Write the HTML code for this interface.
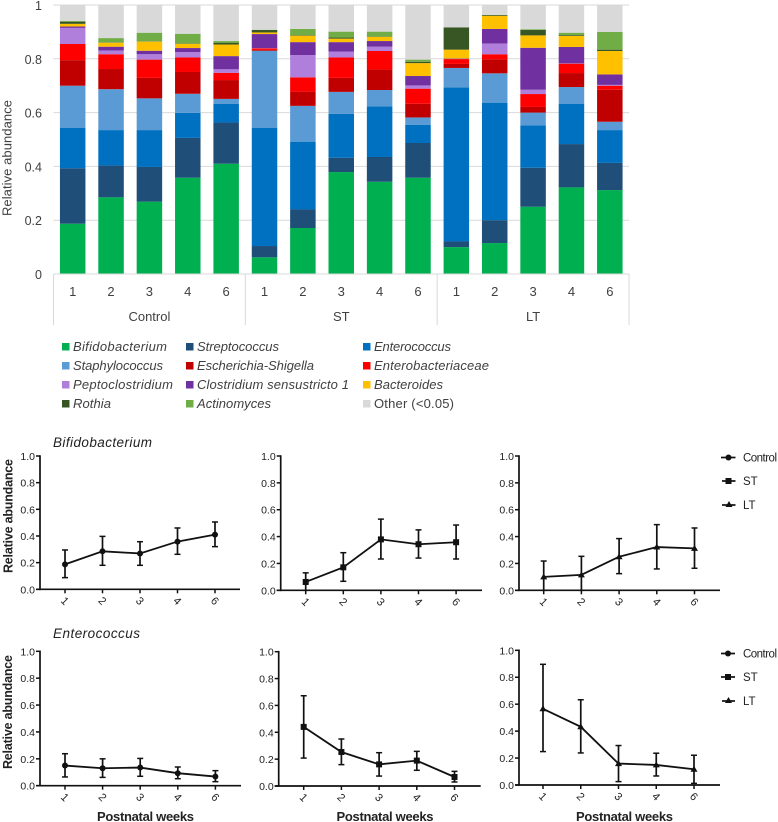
<!DOCTYPE html>
<html lang="en">
<head>
<meta charset="utf-8">
<title>Relative abundance chart</title>
<style>
html,body{margin:0;padding:0;background:#fff;}
svg{display:block;filter:blur(0.35px);}
.cal{font-family:"Liberation Sans",sans-serif;fill:#404040;font-size:13px;}
.ar{font-family:"Liberation Sans",sans-serif;fill:#222;}
</style>
</head>
<body>
<svg id="chart" xmlns="http://www.w3.org/2000/svg" width="778" height="822" viewBox="0 0 778 822">
  <g id="bars"></g>
  <text class="cal" transform="translate(11.5,216) rotate(-90)" textLength="116">Relative abundance</text>

  <g>
    <g><rect x="62" y="343" width="7.5" height="7.5" fill="#00b050"/><text class="cal" x="73" y="351" font-style="italic" textLength="94">Bifidobacterium</text></g>
    <g><rect x="186" y="343" width="7.5" height="7.5" fill="#1f4e79"/><text class="cal" x="197" y="351" font-style="italic" textLength="82">Streptococcus</text></g>
    <g><rect x="363" y="343" width="7.5" height="7.5" fill="#0070c0"/><text class="cal" x="374" y="351" font-style="italic" textLength="77">Enterococcus</text></g>
    <g><rect x="62" y="362" width="7.5" height="7.5" fill="#5b9bd5"/><text class="cal" x="73" y="370" font-style="italic" textLength="90">Staphylococcus</text></g>
    <g><rect x="186" y="362" width="7.5" height="7.5" fill="#c00000"/><text class="cal" x="197" y="370" font-style="italic" textLength="117">Escherichia-Shigella</text></g>
    <g><rect x="363" y="362" width="7.5" height="7.5" fill="#ff0000"/><text class="cal" x="374" y="370" font-style="italic" textLength="115">Enterobacteriaceae</text></g>
    <g><rect x="62" y="381" width="7.5" height="7.5" fill="#b07fdb"/><text class="cal" x="73" y="389" font-style="italic" textLength="100">Peptoclostridium</text></g>
    <g><rect x="186" y="381" width="7.5" height="7.5" fill="#7030a0"/><text class="cal" x="197" y="389" font-style="italic" textLength="152">Clostridium sensustricto 1</text></g>
    <g><rect x="363" y="381" width="7.5" height="7.5" fill="#ffc000"/><text class="cal" x="374" y="389" font-style="italic" textLength="69">Bacteroides</text></g>
    <g><rect x="62" y="400" width="7.5" height="7.5" fill="#375623"/><text class="cal" x="73" y="408" font-style="italic" textLength="38">Rothia</text></g>
    <g><rect x="186" y="400" width="7.5" height="7.5" fill="#70ad47"/><text class="cal" x="197" y="408" font-style="italic" textLength="74">Actinomyces</text></g>
    <g><rect x="363" y="400" width="7.5" height="7.5" fill="#d9d9d9"/><text class="cal" x="374" y="408" textLength="80">Other (&lt;0.05)</text></g>
  </g>

  <text class="ar" x="53" y="447" font-size="13.5" font-style="italic" textLength="99">Bifidobacterium</text>
  <text class="ar" x="53" y="638" font-size="13.5" font-style="italic" textLength="87">Enterococcus</text>
  <text class="ar" transform="translate(12.5,573) rotate(-90)" font-size="12.5" font-weight="bold" fill="#111" textLength="114">Relative abundance</text>
  <text class="ar" transform="translate(12,769) rotate(-90)" font-size="12.5" font-weight="bold" fill="#111" textLength="114">Relative abundance</text>
  <text class="ar" x="97" y="821" font-size="13" font-weight="bold" fill="#111" textLength="97">Postnatal weeks</text>
  <text class="ar" x="336.500" y="821" font-size="13" font-weight="bold" fill="#111" textLength="97">Postnatal weeks</text>
  <text class="ar" x="576" y="821" font-size="13" font-weight="bold" fill="#111" textLength="97">Postnatal weeks</text>

  <g id="panels"></g>

  <g>
    <g><line x1="721" x2="735.500" y1="457.500" y2="457.500" stroke="#111" stroke-width="1.700"/><circle cx="728.500" cy="457.500" r="3" fill="#111"/><text class="ar" x="743" y="461.500" font-size="11.500" textLength="34">Control</text></g>
    <g><line x1="722" x2="735.500" y1="481" y2="481" stroke="#111" stroke-width="1.700"/><rect x="725.500" y="478" width="6" height="6" fill="#111"/><text class="ar" x="743" y="485" font-size="11.500">ST</text></g>
    <g><line x1="722" x2="735.500" y1="505" y2="505" stroke="#111" stroke-width="1.700"/><polygon points="729,501 732.500,507 725.500,507" fill="#111"/><text class="ar" x="743" y="509" font-size="11.500">LT</text></g>
  </g>
  <g>
    <g><line x1="721" x2="735" y1="653.500" y2="653.500" stroke="#111" stroke-width="1.700"/><circle cx="728" cy="653.500" r="3" fill="#111"/><text class="ar" x="743" y="657.500" font-size="11.500" textLength="34">Control</text></g>
    <g><line x1="721" x2="735" y1="677" y2="677" stroke="#111" stroke-width="1.700"/><rect x="725" y="674" width="6" height="6" fill="#111"/><text class="ar" x="743" y="681" font-size="11.500">ST</text></g>
    <g><line x1="722" x2="735" y1="701" y2="701" stroke="#111" stroke-width="1.700"/><polygon points="728.500,697 732,703 725,703" fill="#111"/><text class="ar" x="743" y="705" font-size="11.500">LT</text></g>
  </g>
</svg>

<script>
// ---------- Stacked bar data ----------
var groupLabels = ['Control', 'ST', 'LT'];
var weekLabels = ['1', '2', '3', '4', '6'];
var yTickValues = [0, 0.2, 0.4, 0.6, 0.8, 1];
var yTickLabels = ['0', '0.2', '0.4', '0.6', '0.8', '1'];
var bifidobacterium = [.187,.285,.269,.358,.41,.062,.171,.379,.343,.358,.10,.115,.25,.322,.312];
var streptococcus = [.206,.118,.129,.148,.153,.042,.069,.053,.092,.129,.021,.085,.145,.161,.101];
var enterococcus = [.151,.132,.137,.093,.069,.44,.252,.163,.188,.068,.573,.437,.158,.149,.122];
var staphylococcus = [.156,.152,.118,.071,.019,.286,.133,.082,.061,.027,.072,.109,.047,.063,.031];
var escherichia = [.095,.075,.076,.081,.07,.003,.053,.052,.076,.051,.015,.052,.021,.052,.119];
var enterobacteriaceae = [.06,.055,.068,.054,.027,.006,.053,.076,.069,.056,.018,.019,.048,.035,.015];
var peptoclostridium = [.06,.014,.02,.02,.013,.001,.083,.022,.016,.012,.001,.04,.016,.001,.003];
var clostridium = [.005,.014,.013,.015,.049,.052,.048,.035,.021,.035,.001,.054,.156,.061,.039];
var bacteroides = [.01,.015,.034,.016,.043,.006,.024,.013,.016,.048,.033,.049,.046,.041,.087];
var rothia = [.008,.001,.001,.001,.007,.009,.002,.004,.001,.005,.083,.003,.02,.003,.005];
var actinomyces = [.003,.016,.032,.036,.006,.001,.023,.022,.018,.008,0,0,.003,.009,.066];
var other = [.059,.123,.103,.107,.134,.092,.089,.099,.099,.203,.083,.037,.09,.103,.10];

// ---------- Line panel data ----------
var lineWeeks = ['1', '2', '3', '4', '6'];
var lineTickValues = [0, 0.2, 0.4, 0.6, 0.8, 1];
var lineTickLabels = ['0.0', '0.2', '0.4', '0.6', '0.8', '1.0'];
var bifControlMean = [.187,.285,.269,.358,.41];
var bifControlLow = [.0875,.18,.18,.2625,.32];
var bifControlHigh = [.295,.397,.357,.46,.505];
var bifStMean = [.062,.171,.379,.343,.358];
var bifStLow = [0,.067,.233,.24,.233];
var bifStHigh = [.13,.28,.53,.45,.486];
var bifLtMean = [.10,.115,.25,.322,.312];
var bifLtLow = [0,0,.124,.159,.164];
var bifLtHigh = [.218,.253,.385,.489,.464];
var entControlMean = [.15,.13,.135,.093,.068];
var entControlLow = [.065,.062,.07,.052,.03];
var entControlHigh = [.238,.2,.203,.139,.112];
var entStMean = [.44,.253,.161,.189,.067];
var entStLow = [.208,.159,.074,.117,.03];
var entStHigh = [.672,.35,.248,.258,.109];
var entLtMean = [.566,.432,.159,.149,.117];
var entLtLow = [.248,.238,.025,.067,.012];
var entLtHigh = [.896,.633,.293,.236,.221];

// ---------- Drawing ----------
var NS = 'http://www.w3.org/2000/svg';
function mk(tag, attrs, parent) {
  var el = document.createElementNS(NS, tag);
  for (var k in attrs) el.setAttribute(k, attrs[k]);
  parent.appendChild(el);
  return el;
}

(function drawBars() {
  var g = document.getElementById('bars');
  var axisLeft = 53.5, axisRight = 629, y0 = 274, y1 = 5;
  var catStep = (axisRight - axisLeft) / 15, barW = 25.5;
  function yScale(v) { return y0 - v * (y0 - y1); }
  function xScale(i) { return axisLeft + catStep * (i + 0.5); }

  yTickValues.forEach(function (v, i) {
    if (v > 0) {
      var grid = mk('line', {x1: axisLeft, x2: axisRight, y1: yScale(v), y2: yScale(v), stroke: '#d9d9d9', 'stroke-width': 1}, g);
      
      
    }
    var lab = mk('text', {x: 42, y: yScale(v) + 5, 'text-anchor': 'end', 'class': 'cal'}, g);
    lab.style.fontSize = '12.5px';
    lab.textContent = yTickLabels[i];
    
    
  });

  var stack = [
    [bifidobacterium, '#00b050'], [streptococcus, '#1f4e79'], [enterococcus, '#0070c0'],
    [staphylococcus, '#5b9bd5'], [escherichia, '#c00000'], [enterobacteriaceae, '#ff0000'],
    [peptoclostridium, '#b07fdb'], [clostridium, '#7030a0'], [bacteroides, '#ffc000'],
    [rothia, '#375623'], [actinomyces, '#70ad47'], [other, '#d9d9d9']
  ];
  for (var i = 0; i < bifidobacterium.length; i++) {
    var cum = 0;
    stack.forEach(function (s) {
      var v = s[0][i];
      var seg = mk('rect', {x: xScale(i) - barW / 2, y: yScale(cum + v), width: barW, height: Math.max(0, yScale(cum) - yScale(cum + v)), fill: s[1]}, g);
      
      
      cum += v;
    });
    var wk = mk('text', {x: xScale(i), y: 296, 'text-anchor': 'middle', 'class': 'cal'}, g);
    wk.textContent = weekLabels[i % weekLabels.length];
    
    
  }

  var base = mk('line', {x1: axisLeft, x2: axisRight, y1: y0, y2: y0, stroke: '#d9d9d9', 'stroke-width': 1}, g);
  
  
  for (var b = 0; b <= groupLabels.length; b++) {
    var bx = axisLeft + catStep * weekLabels.length * b;
    var sep = mk('line', {x1: bx, x2: bx, y1: y0, y2: 325, stroke: '#d9d9d9', 'stroke-width': 1}, g);
    
    
    if (b < groupLabels.length) {
      var gl = mk('text', {x: bx + catStep * weekLabels.length / 2, y: 321, 'text-anchor': 'middle', 'class': 'cal'}, g);
      gl.textContent = groupLabels[b];
      
      
    }
  }
})();

function drawPanel(name, geo, shape, mean, low, high) {
  var root = document.getElementById('panels');
  var g = mk('g', {}, root);
  
  
  var dark = '#111';
  function yScale(v) { return geo.y0 - v * (geo.y0 - geo.y1); }
  function xScale(i) { return geo.x0 + geo.step * i; }

  var ya = mk('line', {x1: geo.ax, x2: geo.ax, y1: geo.y1 - 0.8, y2: geo.y0 + 0.8, stroke: dark, 'stroke-width': 1.7}, g);
  
  
  var xa = mk('line', {x1: geo.ax - 4, x2: geo.end, y1: geo.y0, y2: geo.y0, stroke: dark, 'stroke-width': 1.7}, g);
  
  

  lineTickValues.forEach(function (v, i) {
    var t = mk('line', {x1: geo.ax - 4, x2: geo.ax, y1: yScale(v), y2: yScale(v), stroke: dark, 'stroke-width': 1.5}, g);
    
    
    var lab = mk('text', {x: geo.ax - 5, y: yScale(v) + 4, 'text-anchor': 'end', 'class': 'ar', 'font-size': 10.5}, g);
    lab.textContent = lineTickLabels[i];
    
    
  });

  lineWeeks.forEach(function (w, i) {
    var x = xScale(i);
    var t = mk('line', {x1: x, x2: x, y1: geo.y0, y2: geo.y0 + 4, stroke: dark, 'stroke-width': 1.5}, g);
    
    
    var lab = mk('text', {transform: 'translate(' + x + ',' + (geo.y0 + 11.5) + ') rotate(45)', 'text-anchor': 'middle', 'class': 'ar', 'font-size': 11, y: 3.8}, g);
    lab.textContent = w;
    
    

    var e = mk('line', {x1: x, x2: x, y1: yScale(low[i]), y2: yScale(high[i]), stroke: dark, 'stroke-width': 1.7}, g);
    
    
    [low[i], high[i]].forEach(function (c) {
      var cap = mk('line', {x1: x - 3, x2: x + 3, y1: yScale(c), y2: yScale(c), stroke: dark, 'stroke-width': 1.5}, g);
      
      
    });
  });

  var pts = mean.map(function (v, i) { return xScale(i) + ',' + yScale(v); }).join(' ');
  var pl = mk('polyline', {points: pts, fill: 'none', stroke: dark, 'stroke-width': 1.8}, g);
  
  

  mean.forEach(function (v, i) {
    var x = xScale(i), y = yScale(v), m;
    if (shape === 'circle') m = mk('circle', {cx: x, cy: y, r: 3, fill: dark}, g);
    else if (shape === 'square') m = mk('rect', {x: x - 3, y: y - 3, width: 6, height: 6, fill: dark}, g);
    else m = mk('polygon', {points: x + ',' + (y - 3.5) + ' ' + (x + 3.5) + ',' + (y + 2.5) + ' ' + (x - 3.5) + ',' + (y + 2.5), fill: dark}, g);
    
    
  });
}

drawPanel('bifidobacterium-control-panel', {ax: 40, end: 240, y0: 589.3, y1: 456, x0: 65, step: 37.5}, 'circle', bifControlMean, bifControlLow, bifControlHigh);
drawPanel('bifidobacterium-st-panel', {ax: 280.7, end: 482, y0: 590.3, y1: 456, x0: 305.7, step: 37.6}, 'square', bifStMean, bifStLow, bifStHigh);
drawPanel('bifidobacterium-lt-panel', {ax: 519, end: 720, y0: 590.3, y1: 456, x0: 543.7, step: 37.7}, 'triangle', bifLtMean, bifLtLow, bifLtHigh);
drawPanel('enterococcus-control-panel', {ax: 40, end: 241, y0: 785.7, y1: 651.3, x0: 65, step: 37.6}, 'circle', entControlMean, entControlLow, entControlHigh);
drawPanel('enterococcus-st-panel', {ax: 278.7, end: 480.7, y0: 786, y1: 651.7, x0: 303.7, step: 37.7}, 'square', entStMean, entStLow, entStHigh);
drawPanel('enterococcus-lt-panel', {ax: 519, end: 720, y0: 785, y1: 650.3, x0: 543, step: 37.75}, 'triangle', entLtMean, entLtLow, entLtHigh);
</script>
</body>
</html>
